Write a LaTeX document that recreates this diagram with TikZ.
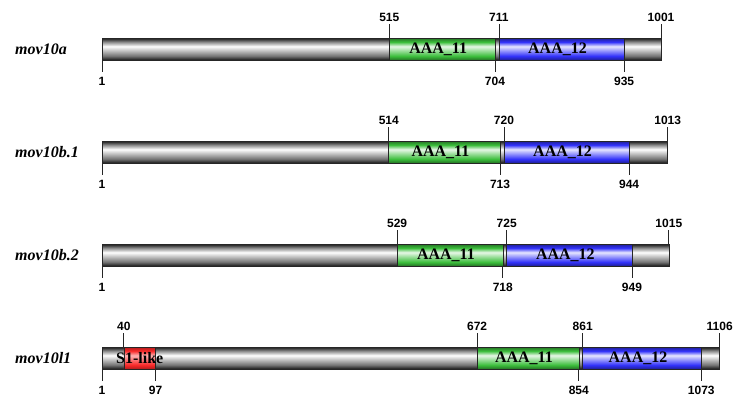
\documentclass[tikz,border=0pt]{standalone}
\usepackage{fontspec}
\setmainfont{Liberation Serif}
\newfontfamily\numfont{Liberation Sans}
\definecolor{grn}{RGB}{60,190,60}
\definecolor{blu}{RGB}{50,50,250}
\definecolor{rd}{RGB}{250,40,40}
% the path is fitted to 25bp..75bp of the shading
\pgfdeclareverticalshading{sgray}{100bp}{color(0bp)=(black!90); color(25bp)=(black!90); color(34bp)=(black!55); color(56bp)=(white); color(66bp)=(black!45); color(75bp)=(black!92); color(100bp)=(black!92)}
\pgfdeclareverticalshading{sgreen}{100bp}{color(0bp)=(grn!60!black); color(25bp)=(grn!60!black); color(34bp)=(grn); color(56bp)=(grn!12); color(66bp)=(grn); color(75bp)=(grn!60!black); color(100bp)=(grn!60!black)}
\pgfdeclareverticalshading{sblue}{100bp}{color(0bp)=(blu!60!black); color(25bp)=(blu!60!black); color(34bp)=(blu); color(56bp)=(blu!12); color(66bp)=(blu); color(75bp)=(blu!60!black); color(100bp)=(blu!60!black)}
\pgfdeclareverticalshading{sred}{100bp}{color(0bp)=(rd!70!black); color(25bp)=(rd!70!black); color(34bp)=(rd); color(56bp)=(rd!35); color(66bp)=(rd); color(75bp)=(rd!70!black); color(100bp)=(rd!70!black)}
\tikzset{
  box/.style={draw=black!85, line width=0.6pt},
  tick/.style={draw=black!85, line width=0.7pt},
  num/.style={inner sep=0pt, font=\numfont\bfseries\fontsize{12}{13}\selectfont},
  domtxt/.style={inner sep=0pt, font=\bfseries\fontsize{16}{17}\selectfont},
  protname/.style={inner sep=0pt, anchor=west, font=\bfseries\itshape\fontsize{16}{17}\selectfont},
}
\newcommand\mkbar[2]{% top, length
  \path[box, shading=sgray] (102,#1) rectangle ({102+(#2-1)*0.559},#1+22);}
\newcommand\mkdom[7][xshift=-4pt]{% [label opts] name, top, start, end, shading, label
  \path[box, shading=#6] ({102+(#4-1)*0.559},#3) rectangle ({102+(#5-1)*0.559},#3+22);
  \node[domtxt,#1] (#2) at ({102+((#4+#5)/2-1)*0.559},#3+11) {#7};}
\newcommand\upm[3]{% name, top, residue
  \node[num] (#1) at ({102+(#3-1)*0.559},#2-21) {#3};
  \draw[tick] ({102+(#3-1)*0.559},#2) -- ++(0,-14);}
\newcommand\dnm[3]{% name, top, residue
  \node[num] (#1) at ({102+(#3-1)*0.559},#2+22+21) {#3};
  \draw[tick] ({102+(#3-1)*0.559},#2+22) -- ++(0,12);}
\begin{document}
\begin{tikzpicture}[x=1pt,y=-1pt]
\useasboundingbox[fill=white] (0,0) rectangle (740,408);
% row 1
\node[protname] (p1) at (15,49) {mov10a};
\mkbar{38}{1001}
\mkdom{a11a}{38}{515}{704}{sgreen}{AAA\_11}
\mkdom{a12a}{38}{711}{935}{sblue}{AAA\_12}
\upm{u1a}{38}{515}\upm{u2a}{38}{711}\upm{u3a}{38}{1001}
\dnm{d1a}{38}{1}\dnm{d2a}{38}{704}\dnm{d3a}{38}{935}
% row 2
\node[protname] (p2) at (15,152) {mov10b.1};
\mkbar{141}{1013}
\mkdom{a11b}{141}{514}{713}{sgreen}{AAA\_11}
\mkdom{a12b}{141}{720}{944}{sblue}{AAA\_12}
\upm{u1b}{141}{514}\upm{u2b}{141}{720}\upm{u3b}{141}{1013}
\dnm{d1b}{141}{1}\dnm{d2b}{141}{713}\dnm{d3b}{141}{944}
% row 3
\node[protname] (p3) at (15,255) {mov10b.2};
\mkbar{244}{1015}
\mkdom{a11c}{244}{529}{718}{sgreen}{AAA\_11}
\mkdom{a12c}{244}{725}{949}{sblue}{AAA\_12}
\upm{u1c}{244}{529}\upm{u2c}{244}{725}\upm{u3c}{244}{1015}
\dnm{d1c}{244}{1}\dnm{d2c}{244}{718}\dnm{d3c}{244}{949}
% row 4
\node[protname] (p4) at (15,358) {mov10l1};
\mkbar{347}{1106}
\mkdom[xshift=0pt]{s1d}{347}{40}{97}{sred}{S1-like}
\mkdom{a11d}{347}{672}{854}{sgreen}{AAA\_11}
\mkdom{a12d}{347}{861}{1073}{sblue}{AAA\_12}
\upm{u0d}{347}{40}\upm{u1d}{347}{672}\upm{u2d}{347}{861}\upm{u3d}{347}{1106}
\dnm{d1d}{347}{1}\dnm{d0d}{347}{97}\dnm{d2d}{347}{854}\dnm{d3d}{347}{1073}
\end{tikzpicture}
\end{document}
